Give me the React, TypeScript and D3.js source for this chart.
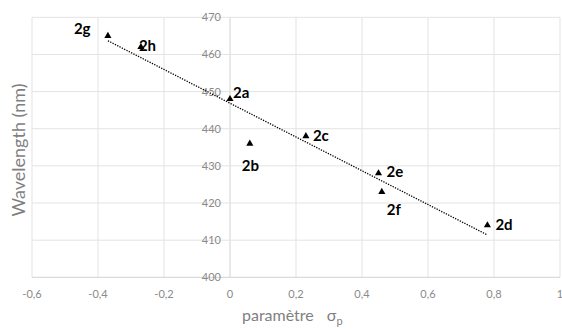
import React from "react";
import * as d3 from "d3";

// ---- data ----
const pointLabels = ["2a", "2b", "2c", "2d", "2e", "2f", "2g", "2h"];
const sigmaP = [0, 0.06, 0.23, 0.78, 0.45, 0.46, -0.37, -0.27];
const wavelength = [448, 436, 438, 414, 428, 423, 465, 462];
const xTicks = [-0.6, -0.4, -0.2, 0, 0.2, 0.4, 0.6, 0.8, 1];
const yTicks = [400, 410, 420, 430, 440, 450, 460, 470];
const yTitle = "Wavelength (nm)";
const xTitleMain = "paramètre";
const xTitleSymbol = "σ";
const xTitleSub = "p";

// label placement offsets in px (dx, dy of label start/baseline from the marker)
const labelOffsets: [number, number][] = [
  [3, -1], [-8, 27], [7, 5], [8, 5], [8, 4], [5, 23], [-34, -2], [-2, 4],
];

const W = 562, H = 329;

export default function App() {
  const x = d3.scaleLinear().domain([-0.6, 1]).range([32, 560]);
  const y = d3.scaleLinear().domain([400, 470]).range([277.3, 17.3]);

  // linear regression trendline
  const n = sigmaP.length;
  const mx = d3.mean(sigmaP)!;
  const my = d3.mean(wavelength)!;
  let sxy = 0, sxx = 0;
  for (let i = 0; i < n; i++) {
    sxy += (sigmaP[i] - mx) * (wavelength[i] - my);
    sxx += (sigmaP[i] - mx) ** 2;
  }
  const slope = sxy / sxx;
  const icpt = my - slope * mx;
  const [xmin, xmax] = d3.extent(sigmaP) as [number, number];
  const trend = d3.line<number>().x((d) => x(d)).y((d) => y(icpt + slope * d))([xmin, xmax]);

  const tri = d3.symbol().type(d3.symbolTriangle).size(22)()!;
  const fmt = (v: number) => (v === 0 || v === 1 ? String(v) : v.toFixed(1).replace(".", ","));

  const grid = "#e3e3e3";
  const axisCol = "#d2d2d2";
  const tickCol = "#8a8a8a";
  const font = "Lato, 'Liberation Sans', sans-serif";

  return (
    <svg width={W} height={H} style={{ position: "absolute", left: 0, top: 0, background: "#fff" }} fontFamily={font}>
      {/* grid */}
      {xTicks.map((t) => (
        <line key={"gx" + t} x1={x(t)} x2={x(t)} y1={y(470)} y2={y(400)} stroke={t === 0 ? axisCol : grid} strokeWidth={1} />
      ))}
      {yTicks.map((t) => (
        <line key={"gy" + t} x1={x(-0.6)} x2={x(1)} y1={y(t)} y2={y(t)} stroke={t === 400 ? axisCol : grid} strokeWidth={1} />
      ))}
      {/* y tick labels (at x=0 axis) */}
      {yTicks.map((t) => (
        <text key={"ly" + t} x={x(0) - 9} y={y(t) + 4} textAnchor="end" fontSize={11} fill={tickCol}>
          {t}
        </text>
      ))}
      {/* x tick labels */}
      {xTicks.map((t) => (
        <text key={"lx" + t} x={x(t)} y={297.5} textAnchor="middle" fontSize={11} fill={tickCol}>
          {fmt(t)}
        </text>
      ))}
      {/* trend line */}
      <path d={trend!} fill="none" stroke="#000" strokeWidth={1.3} strokeDasharray="1.3 1.3" />
      {/* points */}
      {sigmaP.map((s, i) => (
        <path key={"p" + i} d={tri} transform={`translate(${x(s)},${y(wavelength[i])})`} fill="#000" />
      ))}
      {/* labels */}
      {sigmaP.map((s, i) => (
        <text key={"t" + i} x={x(s) + labelOffsets[i][0]} y={y(wavelength[i]) + labelOffsets[i][1]} fontSize={15} fontWeight="bold" fill="#000">
          {pointLabels[i]}
        </text>
      ))}
      {/* axis titles */}
      <text transform={`translate(25,150) rotate(-90)`} textAnchor="middle" fontSize={18} fill="#7f7f7f">
        {yTitle}
      </text>
      <text x={242} y={321} fontSize={16} fill="#7f7f7f">
        {xTitleMain}
        <tspan dx={13}>{xTitleSymbol}</tspan>
        <tspan dy={4} fontSize={11}>{xTitleSub}</tspan>
      </text>
    </svg>
  );
}
